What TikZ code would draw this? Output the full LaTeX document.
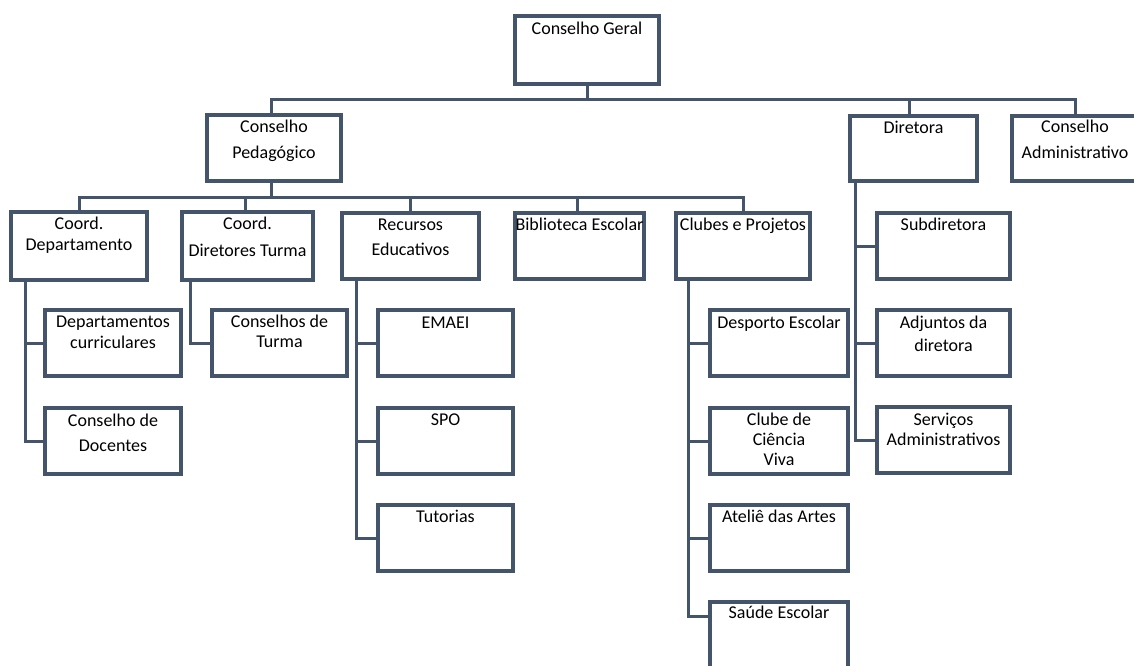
\documentclass[tikz,border=0pt]{standalone}
\usepackage{fontspec}
\setmainfont{Carlito}
\definecolor{boxc}{HTML}{44546A}
\tikzset{
  box/.style={draw=boxc, line width=4pt, fill=none, inner sep=0pt, outer sep=0pt, rectangle},
  lbl/.style={anchor=base, align=center, inner sep=0pt, text=black, font=\fontsize{18}{21}\selectfont},
  conn/.style={draw=boxc, line width=3pt}
}
% #6 = baseline of the LAST text line
\newcommand\bx[7]{%
  \node[box, minimum width={#4-#2-4}, minimum height={#5-#3-4}] (#1) at ({(#2+#4)/2},{(#3+#5)/2}) {};
  \node[lbl] (#1-t) at ({(#2+#4)/2},#6) {#7};
}
\begin{document}
\begin{tikzpicture}[x=1pt,y=-1pt]
\useasboundingbox (0,0) rectangle (1134,665);
\clip (0,0) rectangle (1134,665);
% boxes
\bx{geral}{513}{14}{661}{86}{34}{Conselho Geral}
\bx{peda}{205}{113}{343}{183}{158}{Conselho\\[5pt]Pedagógico}
\bx{dir}{848}{114}{979}{183}{133}{Diretora}
\bx{adm}{1010}{114}{1140}{183}{158}{Conselho\\[5pt]Administrativo}
\bx{cdep}{9}{210}{149}{282}{250}{Coord.\\Departamento}
\bx{cdt}{180}{210}{315}{282}{256}{Coord.\\[6pt]Diretores Turma}
\bx{rec}{340}{211}{481}{281}{255}{Recursos\\[4pt]Educativos}
\bx{bib}{513}{211}{646}{281}{230}{Biblioteca Escolar}
\bx{clu}{674}{211}{812}{281}{230}{Clubes e Projetos}
\bx{sub}{875}{211}{1012}{281}{230}{Subdiretora}
\bx{dcur}{43}{308}{183}{378}{348}{Departamentos\\curriculares}
\bx{cdoc}{43}{406}{183}{476}{451}{Conselho de\\[4pt]Docentes}
\bx{ctur}{210}{308}{349}{378}{347}{Conselhos de\\[-1pt]Turma}
\bx{emaei}{376}{308}{515}{378}{328}{EMAEI}
\bx{spo}{376}{406}{515}{476}{425}{SPO}
\bx{tut}{376}{503}{515}{573}{522}{Tutorias}
\bx{desp}{708}{308}{850}{378}{328}{Desporto Escolar}
\bx{ccv}{708}{406}{850}{476}{465}{Clube de\\[-1pt]Ciência\\[-1pt]Viva}
\bx{atel}{708}{503}{850}{573}{522}{Ateliê das Artes}
\bx{saude}{708}{600}{850}{700}{618}{Saúde Escolar}
\bx{adj}{875}{308}{1012}{378}{351}{Adjuntos da\\[2pt]diretora}
\bx{serv}{875}{405}{1012}{475}{445}{Serviços\\[-1pt]Administrativos}
% level 1 connectors
\coordinate (bar1) at (590,99);
\draw[conn] (geral.south) -- (geral.south |- bar1);
\draw[conn] ([xshift=-3pt]peda.north) -- ([xshift=-3pt]peda.north |- bar1) -- (adm.north |- bar1) -- (adm.north);
\draw[conn] ([xshift=-4pt]dir.north) -- ([xshift=-4pt]dir.north |- bar1);
% level 2 connectors
\coordinate (bar2) at (0,197);
\draw[conn] ([xshift=-3pt]peda.south) -- ([xshift=-3pt]peda.south |- bar2);
\draw[conn] (cdep.north) -- (cdep.north |- bar2) -- (clu.north |- bar2) -- (clu.north);
\draw[conn] ([xshift=-2pt]cdt.north) -- ([xshift=-2pt]cdt.north |- bar2);
\draw[conn] (rec.north) -- (rec.north |- bar2);
\draw[conn] ([xshift=-2pt]bib.north) -- ([xshift=-2pt]bib.north |- bar2);
% spines
\draw[conn] ([xshift=14pt]cdep.south west) |- (dcur.west);
\draw[conn] ([xshift=14pt]cdep.south west) |- (cdoc.west);
\draw[conn] ([xshift=8pt]cdt.south west) |- (ctur.west);
\draw[conn] ([xshift=14pt]rec.south west) |- (emaei.west);
\draw[conn] ([xshift=14pt]rec.south west) |- (spo.west);
\draw[conn] ([xshift=14pt]rec.south west) |- (tut.west);
\draw[conn] ([xshift=12pt]clu.south west) |- (desp.west);
\draw[conn] ([xshift=12pt]clu.south west) |- (ccv.west);
\draw[conn] ([xshift=12pt]clu.south west) |- (atel.west);
\draw[conn] ([xshift=12pt]clu.south west) |- ([yshift=-14pt]saude.north west);
\draw[conn] ([xshift=5pt]dir.south west) |- (sub.west);
\draw[conn] ([xshift=5pt]dir.south west) |- (adj.west);
\draw[conn] ([xshift=5pt]dir.south west) |- (serv.west);
\end{tikzpicture}
\end{document}
